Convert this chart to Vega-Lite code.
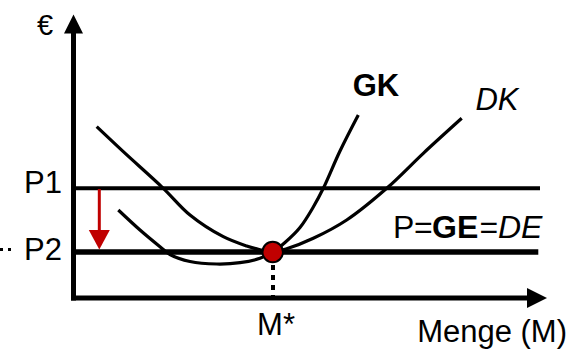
{
  "$schema": "https://vega.github.io/schema/vega-lite/v6.json",
  "width": 585,
  "height": 350,
  "padding": 0,
  "autosize": "none",
  "background": "white",
  "config": {"view": {"stroke": null}, "text": {"font": "Liberation Sans", "fontSize": 31, "color": "black"}},
  "encoding": {
    "x": {"field": "x", "type": "quantitative", "scale": {"domain": [-73, 512], "nice": false, "zero": false}, "axis": null},
    "y": {"field": "y", "type": "quantitative", "scale": {"domain": [-52, 298], "nice": false, "zero": false}, "axis": null}
  },
  "layer": [
    {
      "data": {"values": [
        {"curve": "DK", "x": 23.7, "y": 171.3},
        {"curve": "DK", "x": 50.3, "y": 146.3},
        {"curve": "DK", "x": 90.3, "y": 109.7},
        {"curve": "DK", "x": 117, "y": 83},
        {"curve": "DK", "x": 150.3, "y": 61.3},
        {"curve": "DK", "x": 173.7, "y": 52},
        {"curve": "DK", "x": 187, "y": 48.3},
        {"curve": "DK", "x": 199.7, "y": 46},
        {"curve": "DK", "x": 213.7, "y": 49.2},
        {"curve": "DK", "x": 240.3, "y": 59.7},
        {"curve": "DK", "x": 273.7, "y": 78},
        {"curve": "DK", "x": 313.7, "y": 109.7},
        {"curve": "DK", "x": 350.3, "y": 144.7},
        {"curve": "DK", "x": 388.7, "y": 179.7},
        {"curve": "GK", "x": 45.3, "y": 88},
        {"curve": "GK", "x": 67, "y": 68},
        {"curve": "GK", "x": 87, "y": 51.3},
        {"curve": "GK", "x": 97, "y": 43.5},
        {"curve": "GK", "x": 117, "y": 36.5},
        {"curve": "GK", "x": 143.7, "y": 34},
        {"curve": "GK", "x": 167, "y": 35.3},
        {"curve": "GK", "x": 187, "y": 39.7},
        {"curve": "GK", "x": 199.7, "y": 46},
        {"curve": "GK", "x": 212, "y": 55.5},
        {"curve": "GK", "x": 227, "y": 70.5},
        {"curve": "GK", "x": 240.3, "y": 91},
        {"curve": "GK", "x": 250.3, "y": 109.7},
        {"curve": "GK", "x": 267, "y": 147},
        {"curve": "GK", "x": 285.3, "y": 183}
      ]},
      "mark": {"type": "line", "color": "black", "strokeWidth": 3.2, "interpolate": "catmull-rom"},
      "encoding": {"detail": {"field": "curve"}}
    },
    {
      "data": {"values": [{"x": 2, "x2": 467, "y": 109.7}]},
      "mark": {"type": "rule", "color": "black", "strokeWidth": 4},
      "encoding": {"x2": {"field": "x2"}}
    },
    {
      "data": {"values": [{"x": 2, "x2": 465.3, "y": 46}]},
      "mark": {"type": "rule", "color": "black", "strokeWidth": 5.5},
      "encoding": {"x2": {"field": "x2"}}
    },
    {
      "data": {"values": [{"x": -2, "x2": 455, "y": 0}]},
      "mark": {"type": "rule", "color": "black", "strokeWidth": 5},
      "encoding": {"x2": {"field": "x2"}}
    },
    {
      "data": {"values": [{"x": 0.5, "y": -2.5, "y2": 266}]},
      "mark": {"type": "rule", "color": "black", "strokeWidth": 5},
      "encoding": {"y2": {"field": "y2"}}
    },
    {
      "data": {"values": [{"x": 0.5, "y": 274}]},
      "mark": {"type": "point", "shape": "M0,-1L1,1L-1,1Z", "filled": true, "color": "black", "opacity": 1, "size": 361}
    },
    {
      "data": {"values": [{"x": 464, "y": 0}]},
      "mark": {"type": "point", "shape": "M-1,-1L1,0L-1,1Z", "filled": true, "color": "black", "opacity": 1, "size": 400}
    },
    {
      "data": {"values": [{"x": 26.3, "y": 109, "y2": 66}]},
      "mark": {"type": "rule", "color": "#C00000", "strokeWidth": 3},
      "encoding": {"y2": {"field": "y2"}}
    },
    {
      "data": {"values": [{"x": 26.3, "y": 58.2}]},
      "mark": {"type": "point", "shape": "M-1,-0.93L1,-0.93L0,0.93Z", "filled": true, "color": "#C00000", "opacity": 1, "size": 441}
    },
    {
      "data": {"values": [{"x": 200, "y": 33, "y2": 0}]},
      "mark": {"type": "rule", "color": "black", "strokeWidth": 4, "strokeDash": [5, 5]},
      "encoding": {"y2": {"field": "y2"}}
    },
    {
      "data": {"values": [{"x": -73, "x2": -61, "y": 48.5}]},
      "mark": {"type": "rule", "color": "black", "strokeWidth": 3, "strokeDash": [3, 5]},
      "encoding": {"x2": {"field": "x2"}}
    },
    {
      "data": {"values": [{"x": 199.7, "y": 46}]},
      "mark": {"type": "point", "shape": "circle", "filled": true, "fill": "#C00000", "stroke": "black", "strokeWidth": 2, "opacity": 1, "size": 420}
    },
    {
      "data": {"values": [
        {"text": "P1", "x": -11, "y": 104.7},
        {"text": "P2", "x": -11, "y": 38},
        {"text": "Menge (M)", "x": 494, "y": -43.7}
      ]},
      "mark": {"type": "text", "align": "right", "baseline": "alphabetic"},
      "encoding": {"text": {"field": "text"}}
    },
    {
      "data": {"values": [
        {"text": "M*", "x": 203, "y": -37}
      ]},
      "mark": {"type": "text", "align": "center", "baseline": "alphabetic"},
      "encoding": {"text": {"field": "text"}}
    },
    {
      "data": {"values": [
        {"text": "€", "x": -28, "y": 263}
      ]},
      "mark": {"type": "text", "align": "center", "baseline": "alphabetic", "fontSize": 29},
      "encoding": {"text": {"field": "text"}}
    },
    {
      "data": {"values": [
        {"text": "GK", "x": 303, "y": 202}
      ]},
      "mark": {"type": "text", "align": "center", "baseline": "alphabetic", "fontWeight": "bold"},
      "encoding": {"text": {"field": "text"}}
    },
    {
      "data": {"values": [
        {"text": "DK", "x": 424, "y": 188}
      ]},
      "mark": {"type": "text", "align": "center", "baseline": "alphabetic", "fontStyle": "italic"},
      "encoding": {"text": {"field": "text"}}
    },
    {
      "data": {"values": [
        {"text": "P", "x": 320, "y": 59.7},
        {"text": "=", "x": 341, "y": 59.7},
        {"text": "=", "x": 406.5, "y": 59.7}
      ]},
      "mark": {"type": "text", "align": "left", "baseline": "alphabetic", "fontSize": 32},
      "encoding": {"text": {"field": "text"}}
    },
    {
      "data": {"values": [
        {"text": "GE", "x": 359, "y": 59.7}
      ]},
      "mark": {"type": "text", "align": "left", "baseline": "alphabetic", "fontSize": 32, "fontWeight": "bold"},
      "encoding": {"text": {"field": "text"}}
    },
    {
      "data": {"values": [
        {"text": "DE", "x": 425, "y": 59.7}
      ]},
      "mark": {"type": "text", "align": "left", "baseline": "alphabetic", "fontSize": 32, "fontStyle": "italic"},
      "encoding": {"text": {"field": "text"}}
    }
  ]
}
